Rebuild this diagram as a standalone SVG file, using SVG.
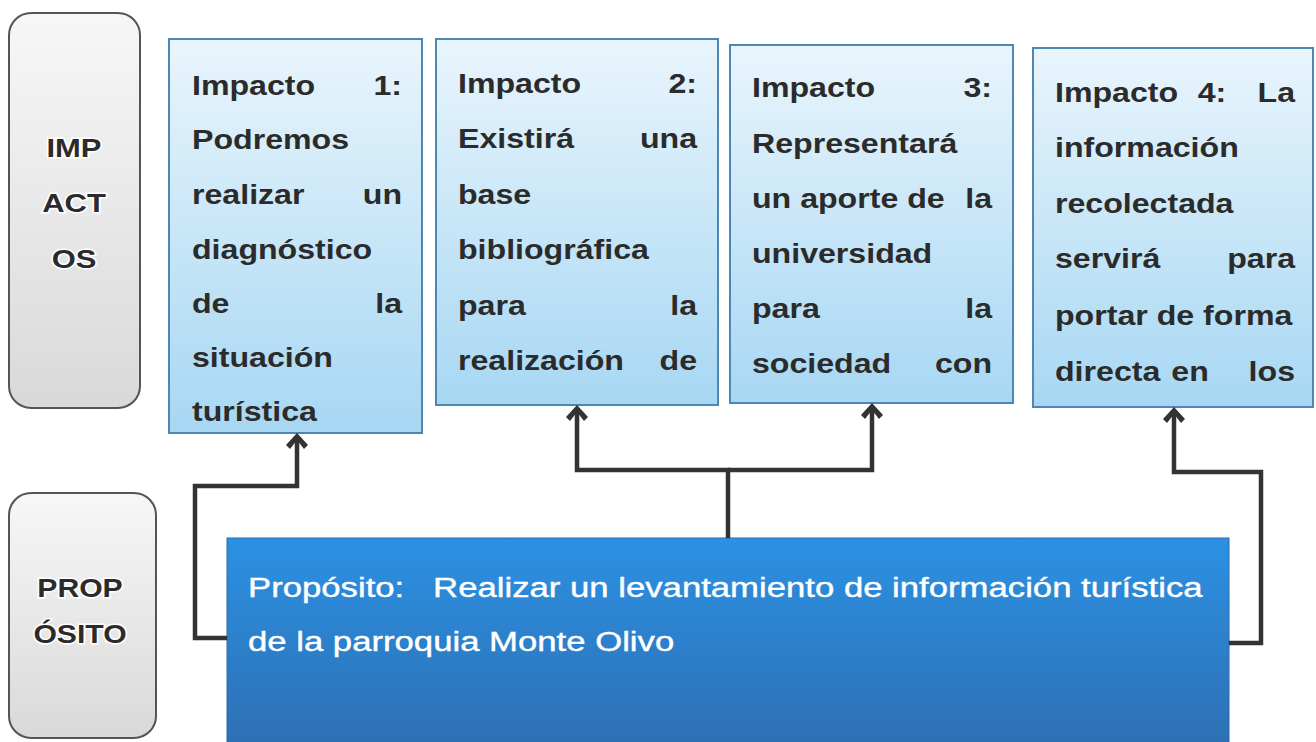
<svg xmlns="http://www.w3.org/2000/svg" width="1316" height="742" viewBox="0 0 1316 742">
<defs>
<linearGradient id="gray" x1="0" y1="0" x2="0" y2="1">
<stop offset="0" stop-color="#f7f7f7"/><stop offset="1" stop-color="#d9d9d9"/>
</linearGradient>
<linearGradient id="lblue" x1="0" y1="0" x2="0" y2="1">
<stop offset="0" stop-color="#e9f5fc"/><stop offset="1" stop-color="#a7d7f3"/>
</linearGradient>
<linearGradient id="dblue" x1="0" y1="0" x2="0" y2="1">
<stop offset="0" stop-color="#2b91e3"/><stop offset="1" stop-color="#2e6fb3"/>
</linearGradient>
<marker id="arr" viewBox="0 0 22 22" refX="16" refY="11" markerWidth="22" markerHeight="22" markerUnits="userSpaceOnUse" orient="auto">
<path d="M22,11 L10,0 L6,4 L15,11 L6,18 L10,22 Z" fill="#333"/>
</marker>
<style>
.lbl{fill:url(#gray);stroke:#555;stroke-width:2}
.imp{fill:url(#lblue);stroke:#4d88b5;stroke-width:2}
.t{font-family:"Liberation Sans",Arial,sans-serif;font-weight:bold;font-size:27px;fill:#2b2b2b}
.e{text-anchor:end}
.m{text-anchor:middle}
.h{font-family:"Liberation Sans",Arial,sans-serif;font-weight:bold;font-size:26px;fill:#2b2b2b;text-anchor:middle;stroke:#fff;stroke-width:3;paint-order:stroke}
.w{font-family:"Liberation Sans",Arial,sans-serif;font-size:28px;fill:#fff;stroke:#fff;stroke-width:0.4}
.c{fill:none;stroke:#333;stroke-width:4.5;stroke-linejoin:miter}
</style>
</defs>
<rect width="1316" height="742" fill="#fff"/>

<g id="label-impactos">
<rect class="lbl" x="9" y="13" width="131" height="395" rx="22"/>
<text class="h" transform="translate(74 157) scale(1.19 1)">IMP</text>
<text class="h" transform="translate(74 212) scale(1.19 1)">ACT</text>
<text class="h" transform="translate(74 268) scale(1.19 1)">OS</text>
</g>

<g id="label-proposito">
<rect class="lbl" x="9" y="493" width="147" height="245" rx="22"/>
<text class="h" transform="translate(80 597) scale(1.16 1)">PROP</text>
<text class="h" transform="translate(80 643) scale(1.16 1)">ÓSITO</text>
</g>

<g id="impacto1">
<rect class="imp" x="169" y="39" width="253" height="394"/>
<text class="t" transform="translate(192 95) scale(1.19 1)">Impacto</text>
<text class="t e" transform="translate(402 95) scale(1.19 1)">1:</text>
<text class="t" transform="translate(192 149) scale(1.19 1)">Podremos</text>
<text class="t" transform="translate(192 204) scale(1.19 1)">realizar</text>
<text class="t e" transform="translate(402 204) scale(1.19 1)">un</text>
<text class="t" transform="translate(192 259) scale(1.19 1)">diagnóstico</text>
<text class="t" transform="translate(192 313) scale(1.19 1)">de</text>
<text class="t e" transform="translate(402 313) scale(1.19 1)">la</text>
<text class="t" transform="translate(192 367) scale(1.19 1)">situación</text>
<text class="t" transform="translate(192 421) scale(1.19 1)">turística</text>
</g>

<g id="impacto2">
<rect class="imp" x="436" y="39" width="282" height="366"/>
<text class="t" transform="translate(458 93) scale(1.19 1)">Impacto</text>
<text class="t e" transform="translate(697 93) scale(1.19 1)">2:</text>
<text class="t" transform="translate(458 148) scale(1.19 1)">Existirá</text>
<text class="t e" transform="translate(697 148) scale(1.19 1)">una</text>
<text class="t" transform="translate(458 204) scale(1.19 1)">base</text>
<text class="t" transform="translate(458 259) scale(1.19 1)">bibliográfica</text>
<text class="t" transform="translate(458 315) scale(1.19 1)">para</text>
<text class="t e" transform="translate(697 315) scale(1.19 1)">la</text>
<text class="t" transform="translate(458 370) scale(1.19 1)">realización</text>
<text class="t e" transform="translate(697 370) scale(1.19 1)">de</text>
</g>

<g id="impacto3">
<rect class="imp" x="730" y="45" width="283" height="358"/>
<text class="t" transform="translate(752 97) scale(1.19 1)">Impacto</text>
<text class="t e" transform="translate(992 97) scale(1.19 1)">3:</text>
<text class="t" transform="translate(752 153) scale(1.19 1)">Representará</text>
<text class="t" transform="translate(752 208) scale(1.19 1)">un aporte de</text>
<text class="t e" transform="translate(992 208) scale(1.19 1)">la</text>
<text class="t" transform="translate(752 263) scale(1.19 1)">universidad</text>
<text class="t" transform="translate(752 318) scale(1.19 1)">para</text>
<text class="t e" transform="translate(992 318) scale(1.19 1)">la</text>
<text class="t" transform="translate(752 373) scale(1.19 1)">sociedad</text>
<text class="t e" transform="translate(992 373) scale(1.19 1)">con</text>
</g>

<g id="impacto4">
<rect class="imp" x="1033" y="48" width="280" height="359"/>
<text class="t" transform="translate(1055 102) scale(1.19 1)">Impacto</text>
<text class="t m" transform="translate(1212 102) scale(1.19 1)">4:</text>
<text class="t e" transform="translate(1295 102) scale(1.19 1)">La</text>
<text class="t" transform="translate(1055 157) scale(1.19 1)">información</text>
<text class="t" transform="translate(1055 213) scale(1.19 1)">recolectada</text>
<text class="t" transform="translate(1055 268) scale(1.19 1)">servirá</text>
<text class="t e" transform="translate(1295 268) scale(1.19 1)">para</text>
<text class="t" transform="translate(1055 325) scale(1.19 1)">portar de forma</text>
<text class="t" transform="translate(1055 381) scale(1.19 1)">directa</text>
<text class="t m" transform="translate(1190 381) scale(1.19 1)">en</text>
<text class="t e" transform="translate(1295 381) scale(1.19 1)">los</text>
</g>

<g id="proposito">
<rect x="227" y="538" width="1002" height="210" fill="url(#dblue)" stroke="#2a6aa8" stroke-width="1"/>
<text class="w" transform="translate(248 597) scale(1.24 1)" xml:space="preserve">Propósito:   Realizar un levantamiento de información turística</text>
<text class="w" transform="translate(248 651) scale(1.24 1)">de la parroquia Monte Olivo</text>
</g>

<g id="connectors">
<path class="c" d="M227,638 H195 V486 H297 V439" marker-end="url(#arr)"/>
<path class="c" d="M728,538 V470 H577 V411" marker-end="url(#arr)"/>
<path class="c" d="M728,470 H872 V409" marker-end="url(#arr)"/>
<path class="c" d="M1229,643 H1261 V472 H1174 V413" marker-end="url(#arr)"/>
</g>
</svg>
